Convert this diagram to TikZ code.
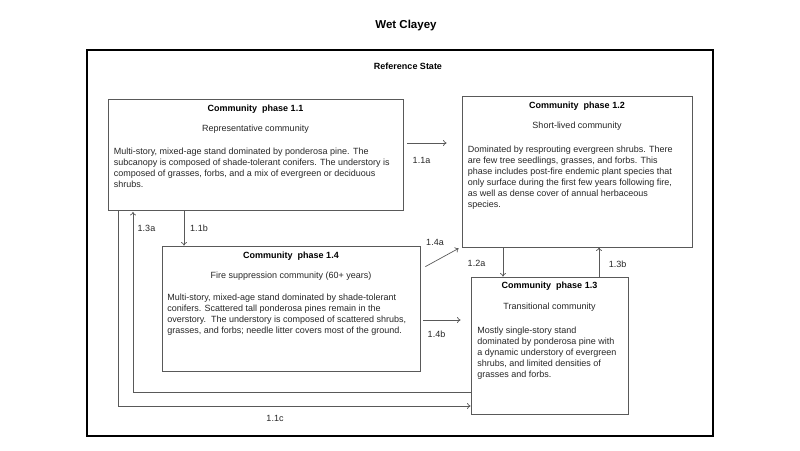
\documentclass[tikz,border=0pt]{standalone}
\usepackage{fontspec}
\setmainfont{Liberation Sans}
\usepackage{tikz}
\usetikzlibrary{arrows.meta}
\tikzset{
  frameS/.style ={draw=black, line width=1.6pt},
  box/.style    ={draw=black!65, line width=0.8pt, inner sep=0pt},
  ttl/.style    ={anchor=base, inner sep=0pt, font=\fontsize{9}{11}\selectfont\bfseries},
  sub/.style    ={anchor=base, inner sep=0pt, font=\fontsize{9}{11}\selectfont, black!85},
  body/.style   ={anchor=north west, inner sep=0pt, align=left, font=\fontsize{9}{11}\selectfont, black!85},
  arr/.style    ={draw=black!65, line width=0.7pt, -{To[length=3.5pt,width=6pt]}},
  lbl/.style    ={inner sep=0pt, font=\fontsize{9}{11}\selectfont, black!85},
}
\begin{document}
\begin{tikzpicture}[x=1pt,y=-1pt]
  \useasboundingbox (0,0) rectangle (800,450);
  \node[font=\fontsize{11.5}{13}\selectfont\bfseries] (title) at (406,26) {Wet Clayey};
  \draw[frameS] (87,50) rectangle (713,436);
  \node[ttl,anchor=center] (refst) at (408,66) {Reference State};
  % community phases
  \node[box, minimum width=295pt, minimum height=111pt] (p11) at (255.5,154.5) {};
  \node[ttl] (t11) at ([yshift=-12.5pt]p11.north) {Community\ \ phase 1.1};
  \node[sub] (s11) at ([yshift=-33pt]p11.north) {Representative community};
  \node[body] (b11) at ([shift={(6pt,-49pt)}]p11.north west) {Multi-story, mixed-age stand dominated by ponderosa pine. The\\subcanopy is composed of shade-tolerant conifers. The understory is\\composed of grasses, forbs, and a mix of evergreen or deciduous\\shrubs.};
  \node[box, minimum width=230pt, minimum height=151pt] (p12) at (577,171.5) {};
  \node[ttl] (t12) at ([yshift=-12.5pt]p12.north) {Community\ \ phase 1.2};
  \node[sub] (s12) at ([yshift=-33pt]p12.north) {Short-lived community};
  \node[body] (b12) at ([shift={(6pt,-50.5pt)}]p12.north west) {Dominated by resprouting evergreen shrubs. There\\are few tree seedlings, grasses, and forbs. This\\phase includes post-fire endemic plant species that\\only surface during the first few years following fire,\\as well as dense cover of annual herbaceous\\species.};
  \node[box, minimum width=258pt, minimum height=125pt] (p14) at (291,308.5) {};
  \node[ttl] (t14) at ([yshift=-12.5pt]p14.north) {Community\ \ phase 1.4};
  \node[sub] (s14) at ([yshift=-33pt]p14.north) {Fire suppression community (60+ years)};
  \node[body] (b14) at ([shift={(5.5pt,-48pt)}]p14.north west) {Multi-story, mixed-age stand dominated by shade-tolerant\\conifers. Scattered tall ponderosa pines remain in the\\overstory.\ \ The understory is composed of scattered shrubs,\\grasses, and forbs; needle litter covers most of the ground.};
  \node[box, minimum width=157pt, minimum height=137pt] (p13) at (549.5,345.5) {};
  \node[ttl] (t13) at ([yshift=-12pt]p13.north) {Community\ \ phase 1.3};
  \node[sub] (s13) at ([yshift=-32.5pt]p13.north) {Transitional community};
  \node[body] (b13) at ([shift={(6.5pt,-50pt)}]p13.north west) {Mostly single-story stand\\dominated by ponderosa pine with\\a dynamic understory of evergreen\\shrubs, and limited densities of\\grasses and forbs.};
  % transitions
  \draw[arr] ([shift={(4pt,11.5pt)}]p11.east) coordinate (a11) -- ([xshift=-15pt]a11 -| p12.west);
  \draw[arr] ([xshift=-71.5pt]p11.south) coordinate (a11b) -- (a11b |- p14.north);
  \draw[arr] ([xshift=-74pt]p12.south) coordinate (a12) -- (a12 |- p13.north);
  \draw[arr] ([xshift=49.5pt]p13.north) coordinate (a13b) -- (a13b |- p12.south);
  \draw[arr] ([shift={(5pt,-21pt)}]p14.north east) -- ([shift={(-3pt,-1pt)}]p12.south west);
  \draw[arr] ([shift={(3pt,-11.5pt)}]p14.east) coordinate (a14) -- ([xshift=-10pt]a14 -| p13.west);
  \draw[arr] ([yshift=-46.5pt]p13.west) -| ([xshift=-122.5pt,yshift=-1.5pt]p11.south);
  \draw[arr] ([xshift=-137.5pt]p11.south) |- ([yshift=-60.5pt]p13.west);
  % labels
  \node[lbl] (l11a) at (421.5,160) {1.1a};
  \node[lbl] (l11b) at (199,228) {1.1b};
  \node[lbl] (l13a) at (146.5,228) {1.3a};
  \node[lbl] (l14a) at (435,242) {1.4a};
  \node[lbl] (l14b) at (436.5,334) {1.4b};
  \node[lbl] (l12a) at (476.5,263.5) {1.2a};
  \node[lbl] (l13b) at (617.5,264) {1.3b};
  \node[lbl] (l11c) at (275,418) {1.1c};
\end{tikzpicture}
\end{document}
